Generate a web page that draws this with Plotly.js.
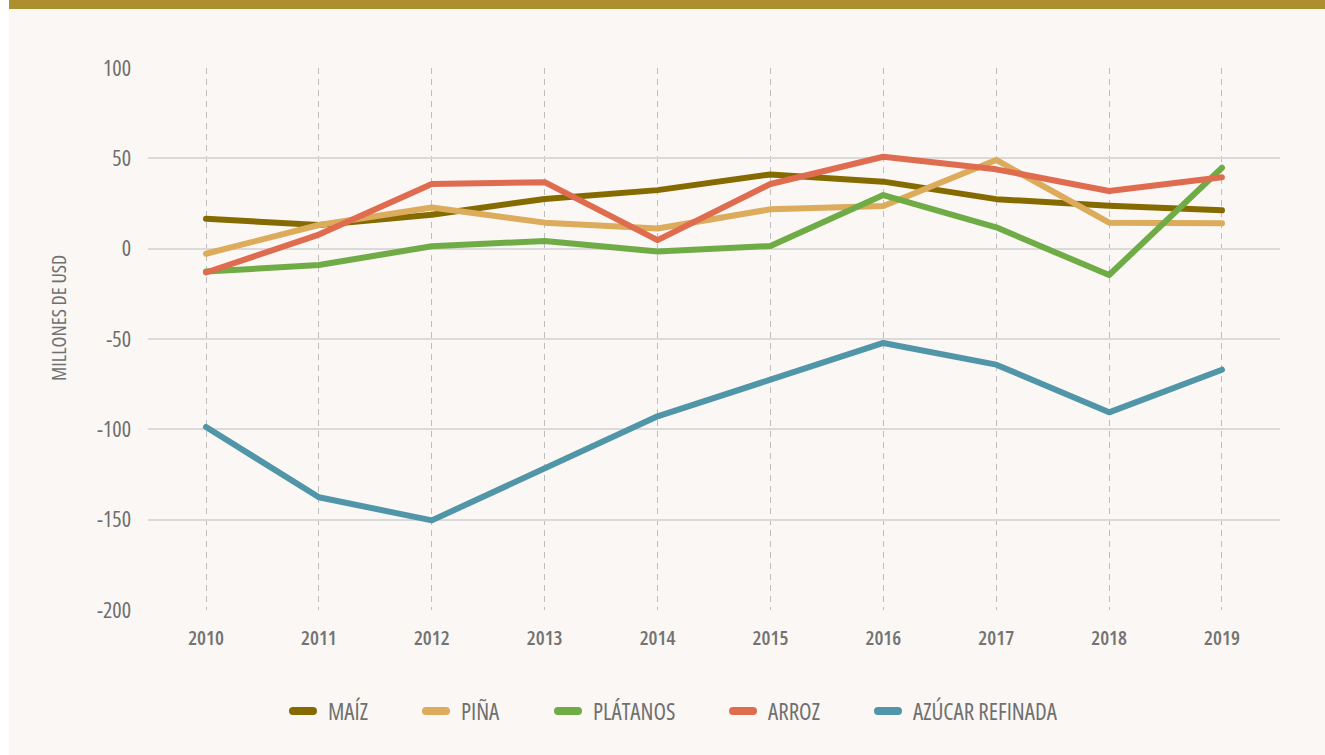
<!DOCTYPE html>
<html>
<head>
<meta charset="utf-8">
<script src="https://cdn.plot.ly/plotly-3.0.1.min.js"></script>
<style>
  html, body { margin: 0; padding: 0; background: #ffffff; width: 1325px; height: 755px; overflow: hidden; }
  #bar { position: absolute; left: 9px; top: 0; width: 1316px; height: 9px; background: #ae8f2f; z-index: 5; }
  #chart { position: absolute; left: 9px; top: 0; width: 1316px; height: 755px; }
  svg text { font-stretch: 75% !important; }
  .scatterlayer path.js-line { stroke-linecap: round; stroke-linejoin: round; }
  .legendlines path { stroke-linecap: round; stroke-width: 8px !important; stroke-dasharray: 20 100; stroke-dashoffset: 0; }
</style>
</head>
<body>
<div id="bar"></div>
<div id="chart"></div>
<script>
const years = [2010, 2011, 2012, 2013, 2014, 2015, 2016, 2017, 2018, 2019];
const seriesNames = ["MAÍZ", "PIÑA", "PLÁTANOS", "ARROZ", "AZÚCAR REFINADA"];
const maiz     = [16.5, 13.1, 18.8, 27.5, 32.4, 41.1, 37.1, 27.4, 23.8, 21.2];
const pina     = [-2.8, 13.1, 22.8, 14.4, 11.2, 21.8, 23.6, 49.1, 14.4, 14.0];
const platanos = [-12.7, -9.0, 1.3, 4.3, -1.6, 1.5, 29.7, 11.8, -14.6, 44.8];
const arroz    = [-13.2, 7.8, 35.8, 36.8, 4.7, 35.8, 50.9, 43.9, 31.9, 39.5];
const azucar   = [-98.7, -137.6, -150.4, -121.6, -92.8, -72.5, -52.2, -64.2, -90.6, -67.0];
const yTicks = [100, 50, 0, -50, -100, -150, -200];
const yTitle = "MILLONES DE USD";

const colors = ["#856a00", "#dcab5b", "#6fac46", "#e06c50", "#5096a8"];
const values = [maiz, pina, platanos, arroz, azucar];
const FONT = '"Open Sans", "DejaVu Sans Condensed", sans-serif';

// legend entry start positions (page pixels) converted to paper fractions
const plotLeft = 148, plotWidth = 1132;
const legendStartPx = [289, 422, 554, 729, 874];
const legendIds = ['legend', 'legend2', 'legend3', 'legend4', 'legend5'];

const traces = values.map((v, i) => ({
  type: 'scatter',
  mode: 'lines',
  x: years,
  y: v,
  name: seriesNames[i],
  legend: legendIds[i],
  line: { color: colors[i], width: 6 },
  hoverinfo: 'x+y+name'
}));

const layout = {
  width: 1316,
  height: 755,
  paper_bgcolor: '#faf7f4',
  plot_bgcolor: '#faf7f4',
  margin: { l: 139, r: 45, t: 68, b: 145 },
  font: { family: FONT, color: '#707070', size: 22 },
  showlegend: true,
  xaxis: {
    range: [2009.486, 2019.514],
    tickmode: 'array',
    tickvals: years,
    ticktext: years.map(String),
    showgrid: true,
    gridcolor: '#bdbdbd',
    gridwidth: 1,
    griddash: '6px,5px',
    zeroline: false,
    showline: false,
    ticks: '',
    ticklabelstandoff: 14,
    tickfont: { family: FONT, size: 20, color: '#737373', weight: 600 }
  },
  yaxis: {
    range: [-200, 100],
    tickmode: 'array',
    tickvals: yTicks,
    ticktext: yTicks.map(String),
    showgrid: true,
    gridcolor: '#dadada',
    gridwidth: 2,
    zeroline: false,
    showline: false,
    ticks: '',
    ticklabelstandoff: 16,
    tickfont: { family: FONT, size: 22, color: '#6e6e6e' }
  },
  annotations: [{
    text: yTitle,
    xref: 'paper', yref: 'paper',
    x: -0.0786, y: 0.539,
    xanchor: 'center', yanchor: 'middle',
    textangle: -90,
    showarrow: false,
    font: { family: FONT, size: 20, color: '#707070' }
  }]
};

legendIds.forEach((id, i) => {
  layout[id] = {
    orientation: 'h',
    x: (legendStartPx[i] - 1 - plotLeft) / plotWidth,
    xanchor: 'left',
    y: -0.1863,
    yanchor: 'middle',
    bgcolor: 'rgba(0,0,0,0)',
    borderwidth: 0,
    font: { family: FONT, size: 23, color: '#707070' }
  };
});

Plotly.newPlot('chart', traces, layout, { displayModeBar: false, staticPlot: true });
</script>
</body>
</html>
